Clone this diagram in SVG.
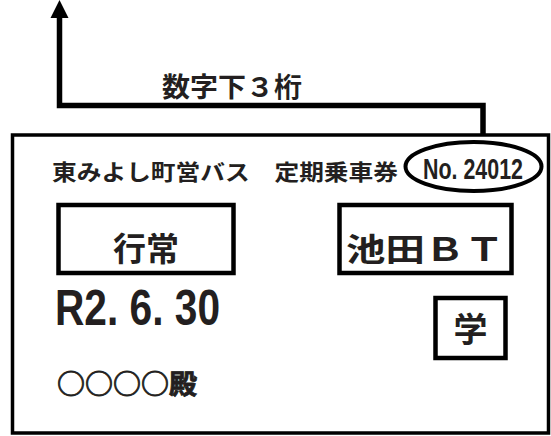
<svg xmlns="http://www.w3.org/2000/svg" width="551" height="436" viewBox="0 0 551 436">
<style>
.box{fill:none;stroke:#000;stroke-width:4.5}
.jp{font-family:"Noto Sans CJK JP","Noto Sans CJK SC",sans-serif;font-weight:bold;fill:#231f20}
.num{font-family:"Liberation Sans","DejaVu Sans",sans-serif;font-weight:bold;fill:#231f20}
.conn{fill:none;stroke:#000;stroke-width:5.5;stroke-linejoin:miter}
</style>
<g id="connectors">
<path class="conn" d="M483,134 L483,105.5 L59.5,105.5 L59.5,17"/>
<polygon points="59.5,0 50.5,18 68.5,18" fill="#000"/>
</g>
<g id="label-digits">
<text class="jp" x="162" y="97" font-size="27" textLength="140" lengthAdjust="spacingAndGlyphs">数字下３桁</text>
</g>
<g id="ticket">
<rect x="12.5" y="135" width="536" height="298" fill="none" stroke="#000" stroke-width="3.5"/>
<text class="jp" x="52" y="180" font-size="21.5" textLength="346" lengthAdjust="spacingAndGlyphs">東みよし町営バス　定期乗車券</text>
</g>
<g id="number">
<ellipse cx="473.5" cy="166.5" rx="68" ry="24.5" fill="none" stroke="#000" stroke-width="4"/>
<text class="num" x="423" y="179" font-size="29" textLength="100" lengthAdjust="spacingAndGlyphs">No. 24012</text>
</g>
<g id="route-from">
<rect class="box" x="58.5" y="205" width="175" height="68"/>
<text class="jp" x="146" y="261" font-size="33" text-anchor="middle">行常</text>
</g>
<g id="route-to">
<rect class="box" x="339.5" y="205" width="172" height="68"/>
<text class="jp" x="346" y="261" font-size="32" textLength="158" lengthAdjust="spacingAndGlyphs">池田ＢＴ</text>
</g>
<g id="date">
<text class="num" x="55" y="325" font-size="50" textLength="165" lengthAdjust="spacingAndGlyphs">R2. 6. 30</text>
</g>
<g id="student">
<rect class="box" x="435.5" y="298" width="70" height="60"/>
<text class="jp" x="470.5" y="342" font-size="34" text-anchor="middle">学</text>
</g>
<g id="name">
<text class="jp" x="57" y="394" font-size="27" textLength="140" lengthAdjust="spacingAndGlyphs" stroke="#231f20" stroke-width="0.8">○○○○殿</text>
</g>
</svg>
